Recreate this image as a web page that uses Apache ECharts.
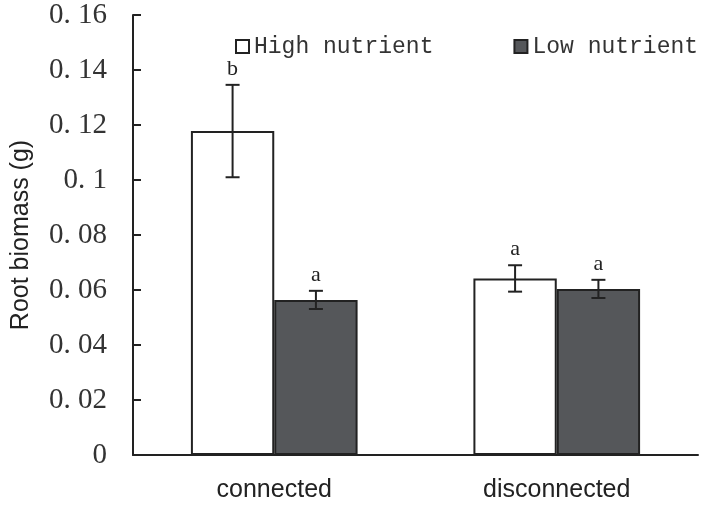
<!DOCTYPE html>
<html><head><meta charset="utf-8">
<script src="https://cdn.jsdelivr.net/npm/echarts@6/dist/echarts.min.js"></script>
<style>html,body{margin:0;padding:0;background:#fff}#c{width:703px;height:505px}</style>
</head><body><div id="c"></div>
<script>
var categories = ['connected', 'disconnected'];
var seriesNames = ['High nutrient', 'Low nutrient'];
var highMeans = [0.1178, 0.0642];
var highErr = [0.0168, 0.0048];
var highLetters = ['b', 'a'];
var lowMeans = [0.0564, 0.0604];
var lowErr = [0.0033, 0.0033];
var lowLetters = ['a', 'a'];
var yTicks = [0, 0.02, 0.04, 0.06, 0.08, 0.1, 0.12, 0.14, 0.16];

var GAP = 0.41;
function errSeries(means, errs, letters, side) {
  var data = means.map(function (m, i) { return [i, m, errs[i]]; });
  return {
    type: 'custom', silent: true, z: 5,
    data: data,
    encode: { x: 0, y: 1 },
    renderItem: function (params, api) {
      var i = api.value(0), m = api.value(1), e = api.value(2);
      var letter = letters[params.dataIndex];
      var band = api.size([1, 0])[0];
      var off = side * band * (1 - GAP) / 4;
      var top = api.coord([i, m + e]);
      var bot = api.coord([i, m - e]);
      var x = top[0] + off;
      var cap = 7;
      var st = { stroke: '#222', lineWidth: 2 };
      return { type: 'group', children: [
        { type: 'line', shape: { x1: x, y1: top[1], x2: x, y2: bot[1] }, style: st },
        { type: 'line', shape: { x1: x - cap, y1: top[1], x2: x + cap, y2: top[1] }, style: st },
        { type: 'line', shape: { x1: x - cap, y1: bot[1], x2: x + cap, y2: bot[1] }, style: st },
        { type: 'text', style: { text: letter, x: x, y: top[1] - 5, align: 'center', verticalAlign: 'bottom',
          font: '22px "Liberation Serif", serif', fill: '#222' } }
      ]};
    }
  };
}

var chart = echarts.init(document.getElementById('c'));
chart.setOption({
  animation: false,
  backgroundColor: '#fff',
  grid: { left: 133, right: 5, top: 15, bottom: 50, containLabel: false },
  legend: {
    data: seriesNames, left: 230, top: 30, width: 470, orient: 'horizontal',
    icon: 'rect', itemWidth: 13, itemHeight: 13, itemGap: 80,
    textStyle: { fontFamily: '"Liberation Mono", monospace', fontSize: 23, color: '#333' }
  },
  xAxis: {
    type: 'category', data: categories,
    axisLine: { lineStyle: { color: '#222', width: 2 } },
    axisTick: { inside: true, length: 8, lineStyle: { color: '#222', width: 2 } },
    axisLabel: { fontFamily: 'Liberation Sans, Arial', fontSize: 25, color: '#222', margin: 23 }
  },
  yAxis: {
    type: 'value', min: 0, max: 0.16, interval: 0.02,
    name: 'Root biomass (g)', nameLocation: 'middle', nameGap: 99, nameRotate: 90,
    nameTextStyle: { fontFamily: 'Liberation Sans, Arial', fontSize: 25, color: '#222' },
    axisLine: { show: true, lineStyle: { color: '#222', width: 2 } },
    axisTick: { show: true, inside: true, length: 8, lineStyle: { color: '#222', width: 2 } },
    splitLine: { show: false },
    axisLabel: {
      margin: 26, fontFamily: '"Liberation Serif", serif', fontSize: 29, color: '#333',
      formatter: function (v) {
        var t = yTicks.filter(function (k) { return Math.abs(k - v) < 1e-9; });
        if (!t.length) return '';
        var s = String(parseFloat(v.toFixed(2)));
        return s === '0' ? '0' : s.replace('.', '. ');
      }
    }
  },
  series: [
    { name: seriesNames[0], type: 'bar', data: highMeans, barGap: '0%', barCategoryGap: (GAP * 100) + '%',
      itemStyle: { color: '#ffffff', borderColor: '#222', borderWidth: 2 } },
    { name: seriesNames[1], type: 'bar', data: lowMeans, barGap: '0%', barCategoryGap: (GAP * 100) + '%',
      itemStyle: { color: '#55575a', borderColor: '#222', borderWidth: 2 } },
    errSeries(highMeans, highErr, highLetters, -1),
    errSeries(lowMeans, lowErr, lowLetters, 1)
  ]
});
</script></body></html>
